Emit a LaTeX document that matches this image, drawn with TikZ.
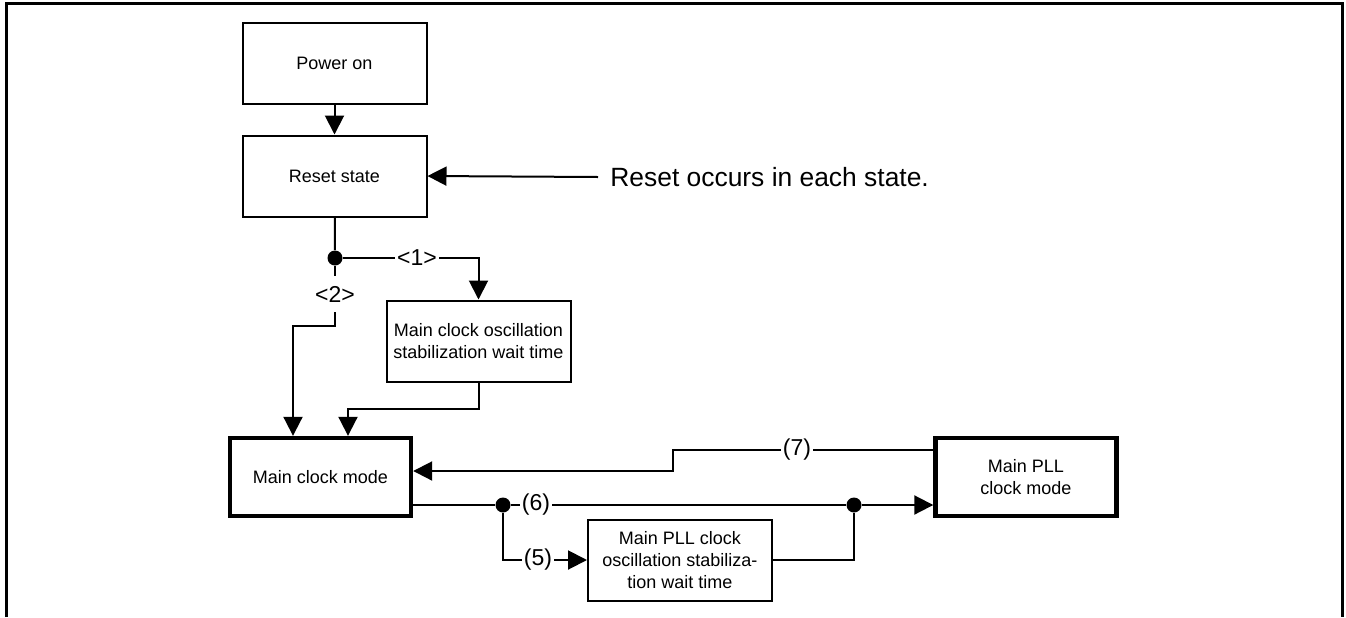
\documentclass[tikz,border=0pt]{standalone}
\usepackage{fontspec}
\setmainfont{Liberation Sans}
\usetikzlibrary{arrows.meta}
\usetikzlibrary{positioning}
\tikzset{>={Triangle[length=9.5pt,width=9.5pt]}}
\tikzstyle{state} = [draw, line width=1pt, minimum width=92pt, minimum height=40.5pt, inner sep=1pt, align=center, font=\fontsize{9}{11}\selectfont]
\tikzstyle{mode} = [state, line width=2.2pt, minimum width=90.5pt, minimum height=39pt]
\tikzstyle{lbl} = [fill=white, inner sep=1pt, font=\fontsize{11.5}{13}\selectfont]
\tikzstyle{dot} = [circle, fill, inner sep=0, minimum size=7.5pt]
\tikzstyle{wire} = [line width=1pt]

\begin{document}
\begin{tikzpicture}[x=0.5pt, y=-0.5pt]
\useasboundingbox (0,0) rectangle (1346,617);
\draw [line width=1.5pt] (6,617) -- (6,3) -- (1342,3) -- (1342,617);
% states
\node [state] (pwr) at (334.5, 63) {Power on};
\node [state] (rst) at (334.5, 176) {Reset state};
\node [state] (oscw) at (478.5, 341) {Main clock oscillation\\stabilization wait time};
\node [mode] (mcm) at (320.5, 477) {Main clock mode};
\node [state] (pllw) at (680, 560) {Main PLL clock\\oscillation stabiliza-\\tion wait time};
\node [mode] (pll) at (1026, 477) {Main PLL\\clock mode};
\node [anchor=west, inner sep=0, font=\fontsize{13.2}{15}\selectfont] (note) at (610, 177) {Reset occurs in each state.};
% branch points
\node [dot] (j1) at (335, 258) {};
\node [dot] (j2) at (503, 505) {};
\node [dot] (j3) at (854, 505) {};
% transition labels
\node [lbl] (l1) at (417, 258) {<1>};
\node [lbl, inner ysep=5pt] (l2) at (335, 294) {<2>};
\node [lbl] (l5) at (538, 560) {(5)};
\node [lbl] (l6) at (536, 505) {(6)};
\node [lbl] (l7) at (797, 450) {(7)};
% transitions
\draw [wire, ->] (pwr) -- (rst);
\draw [wire, ->] ([xshift=-6pt]note.west) -- (rst.east);
\draw [wire] (rst) -- (j1);
\draw [wire] (j1) -- (l1);
\draw [wire, ->] (l1) -| (oscw);
\draw [wire] (j1) -- (l2);
\draw [wire, ->] (l2) -- ++(0,32) -| ([xshift=-13.75pt]mcm.north);
\draw [wire, ->] (oscw) -- ++(0,68) -| ([xshift=13.75pt]mcm.north);
\draw [wire] (l7 -| pll.west) -- (l7);
\draw [wire, ->] (l7) -- (673,450) |- ([yshift=3pt]mcm.east);
\draw [wire] ([yshift=-14pt]mcm.east) -- (j2);
\draw [wire] (j2) -- (l6);
\draw [wire] (l6) -- (j3);
\draw [wire, ->] (j3) -- (j3 -| pll.west);
\draw [wire] (j2) |- (l5);
\draw [wire, ->] (l5) -- (pllw);
\draw [wire] (pllw) -| (j3);
\end{tikzpicture}
\end{document}
